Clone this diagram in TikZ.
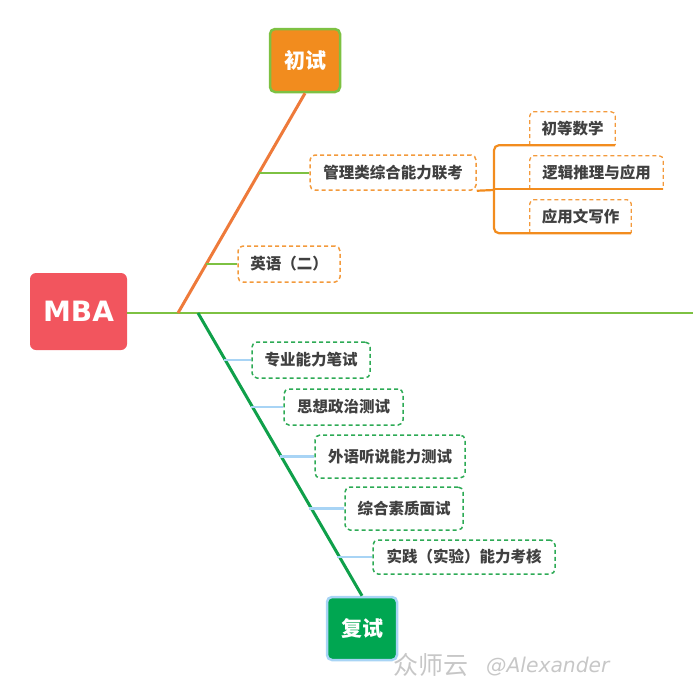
\documentclass[tikz,border=0pt]{standalone}
\usepackage{fontspec}
\setmainfont{Noto Sans CJK SC}
\newfontfamily\cjk{Noto Sans CJK SC}
\newfontfamily\latinsans{DejaVu Sans}
\definecolor{mbared}{HTML}{F2555E}
\definecolor{orfill}{HTML}{F28C1E}
\definecolor{orline}{HTML}{EE7A3A}
\definecolor{trunkgreen}{HTML}{7DC142}
\definecolor{darkgreen}{HTML}{0FA04A}
\definecolor{fsfill}{HTML}{00A651}
\definecolor{lightblue}{HTML}{A8D4F5}
\definecolor{txtgray}{HTML}{404040}
\definecolor{boxorange}{HTML}{F39A3C}
\definecolor{boxgreen}{HTML}{2DAA55}
\begin{document}
\begin{tikzpicture}[x=1pt,y=-1pt,
  root/.style={rounded corners=6pt, fill=mbared, text=white, minimum width=97pt, minimum height=77pt, font=\latinsans\bfseries\fontsize{28}{30}\selectfont},
  headbox/.style={rounded corners=5pt, line width=2.5pt, text=white, minimum width=70pt, minimum height=63pt, font=\cjk\bfseries\fontsize{21}{24}\selectfont},
  orbox/.style={draw=boxorange, dashed, dash pattern=on 4pt off 3pt, line width=1.5pt, rounded corners=5pt, text=txtgray, inner sep=0pt, font=\cjk\bfseries\fontsize{15.5}{18}\selectfont},
  grbox/.style={draw=boxgreen, dashed, dash pattern=on 4pt off 3pt, line width=1.5pt, rounded corners=5pt, text=txtgray, inner sep=0pt, font=\cjk\bfseries\fontsize{15.5}{18}\selectfont},
  subbox/.style={text=txtgray, inner sep=0pt, font=\cjk\bfseries\fontsize{15.5}{18}\selectfont},
  subdash/.style={draw=boxorange, dash pattern=on 4pt off 3pt, line width=1.3pt},
  bracket/.style={draw=orfill, line width=2.2pt, rounded corners=5pt},
  gline/.style={draw=trunkgreen, line width=2pt},
  bline/.style={draw=lightblue, line width=2.2pt}
]
\useasboundingbox (0,0) rectangle (693,688);

% root and trunk
\node[root] (mba) at (78.5,311.5) {MBA};
\coordinate (trunkend) at (693,313);
\draw[gline] (mba.east |- trunkend) -- (trunkend);

% chushi
\node[headbox, fill=orfill, draw=trunkgreen] (chushi) at (305,60.5) {初试};
\coordinate (oroot) at (178,313);
\draw[draw=orline, line width=3pt] (oroot) -- (chushi.south);

% fushi
\node[headbox, fill=fsfill, draw=lightblue] (fushi) at (362,628.5) {复试};
\coordinate (groot) at (198,313);
\draw[draw=darkgreen, line width=3pt] (groot) -- (fushi.north);

% chushi branches
\node[orbox, minimum width=166pt, minimum height=35pt] (guanli) at (393,172.5) {管理类综合能力联考};
\coordinate (ob1) at (259,172.5);
\draw[gline] (ob1) -- (guanli.west);

\node[orbox, minimum width=102pt, minimum height=36pt] (yingyu) at (289,264) {英语（二）};
\coordinate (ob2) at (206,264);
\draw[gline] (ob2) -- (yingyu.west);

% sub nodes of guanli
\node[subbox, minimum width=85pt, minimum height=33pt] (s1) at (572.5,128.5) {初等数学};
\node[subbox, minimum width=133pt, minimum height=33pt] (s2) at (596.5,172.5) {逻辑推理与应用};
\node[subbox, minimum width=101pt, minimum height=33pt] (s3) at (580.5,216.5) {应用文写作};
\foreach \s in {s1,s2,s3}{
  \draw[subdash, rounded corners=4pt] (\s.south west) -- (\s.north west) -- (\s.north east) -- (\s.south east);
}
\coordinate (bx) at (494,190);
\draw[bracket] (guanli.south east) -- (bx);
\draw[bracket] (s1.south east) -- (s1.south -| bx) -- (s3.south -| bx) -- (s3.south east);
\draw[bracket, rounded corners=0pt] (s2.south -| bx) -- (s2.south east);

% fushi branches
\node[grbox, minimum width=118pt, minimum height=36pt] (f1) at (311,360) {专业能力笔试};
\node[grbox, minimum width=119pt, minimum height=36pt] (f2) at (343.5,407) {思想政治测试};
\node[grbox, minimum width=150pt, minimum height=43pt] (f3) at (390,456.5) {外语听说能力测试};
\node[grbox, minimum width=118pt, minimum height=43pt] (f4) at (404,508.5) {综合素质面试};
\node[grbox, minimum width=182pt, minimum height=34pt] (f5) at (464,557) {实践（实验）能力考核};
\coordinate (gb1) at (224,360);
\coordinate (gb2) at (251,407);
\coordinate (gb3) at (279.5,456.5);
\coordinate (gb4) at (309,508.5);
\coordinate (gb5) at (337,557);
\draw[bline] (gb1) -- (f1.west);
\draw[bline] (gb2) -- (f2.west);
\draw[bline] (gb3) -- (f3.west);
\draw[bline] (gb4) -- (f4.west);
\draw[bline] (gb5) -- (f5.west);

% watermark
\node[text=black!22, font=\cjk\fontsize{25}{27}\selectfont, anchor=west, inner sep=0pt] (wm1) at (393,665) {众师云};
\node[text=black!22, font=\latinsans\itshape\fontsize{20.3}{22}\selectfont, anchor=west, inner sep=0pt] (wm2) at (486,667) {@Alexander};
\end{tikzpicture}
\end{document}
